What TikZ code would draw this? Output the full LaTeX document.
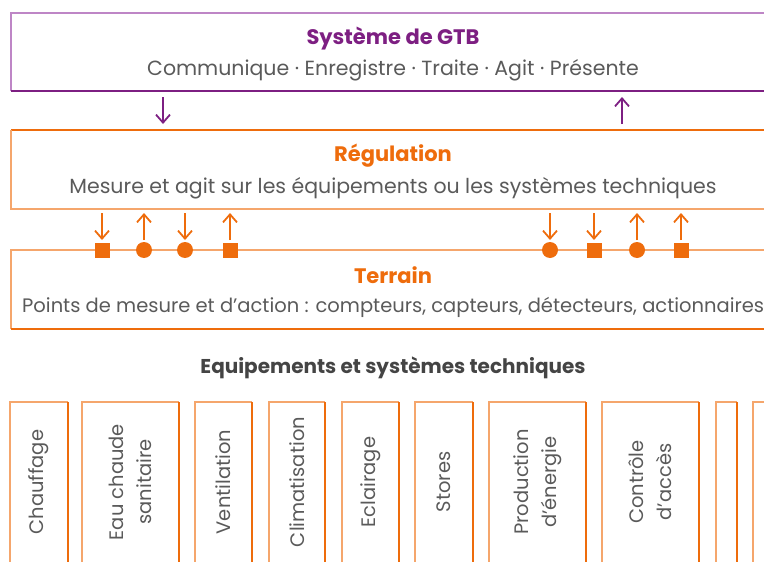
\documentclass[tikz,border=0pt]{standalone}
\usepackage{fontspec}
\setmainfont{Poppins}
\usetikzlibrary{arrows.meta}
\definecolor{purp}{HTML}{7D1F82}
\definecolor{purpl}{HTML}{BE86C6}
\definecolor{orng}{HTML}{EE6C0C}
\definecolor{orngl}{HTML}{F5A66C}
\definecolor{txt}{HTML}{5A5A5A}
\definecolor{headc}{HTML}{444444}
\begin{document}
\begin{tikzpicture}[x=1pt,y=-1pt,
  body/.style={text=txt,font=\fontsize{20.5}{24}\selectfont,inner sep=0pt,align=center},
  ttl/.style={font=\fontsize{21}{24}\selectfont\bfseries,inner sep=0pt},
  vlab/.style={text=txt,font=\fontsize{19.5}{28}\selectfont,inner sep=0pt,align=center,rotate=90},
  parr/.style={purp,line width=1.8pt,-{Straight Barb[length=8pt,width=14pt,line width=1.8pt]}},
  oarr/.style={orng,line width=1.8pt,-{Straight Barb[length=8pt,width=14pt,line width=1.8pt]}},
  sq/.style={fill=orng,minimum size=15pt,inner sep=0pt,outer sep=0pt},
  dot/.style={fill=orng,circle,minimum size=16pt,inner sep=0pt,outer sep=0pt},
  lt/.style={line width=1.2pt},
]
\useasboundingbox (0,0) rectangle (764,562);
\clip (0,0) rectangle (764,562);

% ---- Systeme de GTB box
\draw[lt,purpl] (11,91) -- (11,13) -- (780,13);
\draw[lt,purp] (11,91) -- (780,91);
\node[ttl,text=purp] (gtbT) at (393,39) {Système de GTB};
\node[body] (gtbB) at (393,70) {Communique · Enregistre · Traite · Agit · Présente};

% ---- Regulation box
\draw[lt,orng] (11,130) -- (780,130);
\draw[lt,orngl] (11,130) -- (11,209) -- (780,209);
\node[ttl,text=orng] (regT) at (393,156) {Régulation};
\node[body] (regB) at (393,188) {Mesure et agit sur les équipements ou les systèmes techniques};

% ---- Terrain box
\draw[lt,orngl] (780,250) -- (11,250) -- (11,329);
\draw[lt,orng] (11,329) -- (780,329);
\node[ttl,text=orng] (terT) at (393,275) {Terrain};
\node[body,font=\fontsize{19.5}{23}\selectfont,anchor=west] (terB) at (22,307) {Points de mesure et d’action : compteurs, capteurs, détecteurs, actionnaires};

% ---- purple arrows
\coordinate (pa1) at (163,97);  \coordinate (pb1) at (163,124);
\coordinate (pa2) at (622,124); \coordinate (pb2) at (622,97);
\draw[parr] (pa1) -- (pb1);
\draw[parr] (pa2) -- (pb2);

% ---- markers on Terrain line
\node[sq]  (m1) at (102,250) {};
\node[dot] (m2) at (144,250) {};
\node[dot] (m3) at (185,250) {};
\node[sq]  (m4) at (230,250) {};
\node[dot] (m5) at (550,250) {};
\node[sq]  (m6) at (594,250) {};
\node[dot] (m7) at (637,250) {};
\node[sq]  (m8) at (681,250) {};
\foreach \m/\x in {1/102,2/144,3/185,4/230,5/550,6/594,7/637,8/681}{
  \coordinate (t\m) at (\x,213);
  \coordinate (b\m) at (\x,240);
}
\draw[oarr] (t1) -- (b1);
\draw[oarr] (b2) -- (t2);
\draw[oarr] (t3) -- (b3);
\draw[oarr] (b4) -- (t4);
\draw[oarr] (t5) -- (b5);
\draw[oarr] (t6) -- (b6);
\draw[oarr] (b7) -- (t7);
\draw[oarr] (b8) -- (t8);

% ---- heading
\node[font=\fontsize{20}{23}\selectfont\bfseries,text=headc,inner sep=0pt] (eqH) at (393,368) {Equipements et systèmes techniques};

% ---- equipment boxes
\foreach \a/\b in {10/68,82/179,195/252,269/325,342/399,415/473,489/586,602/699,716/737,753/800}{
  \draw[lt,orngl] (\a,575) -- (\a,402) -- (\b,402);
  \draw[lt,orng] (\b,402) -- (\b,575);
}
\node[vlab] (e1) at (39,482) {Chauffage};
\node[vlab] (e2) at (130.5,482) {Eau chaude\\sanitaire};
\node[vlab] (e3) at (223.5,482) {Ventilation};
\node[vlab] (e4) at (297,482) {Climatisation};
\node[vlab] (e5) at (370.5,482) {Eclairage};
\node[vlab] (e6) at (444,482) {Stores};
\node[vlab] (e7) at (537.5,482) {Production\\d'énergie};
\node[vlab] (e8) at (650.5,482) {Contrôle\\d'accès};
\end{tikzpicture}
\end{document}
